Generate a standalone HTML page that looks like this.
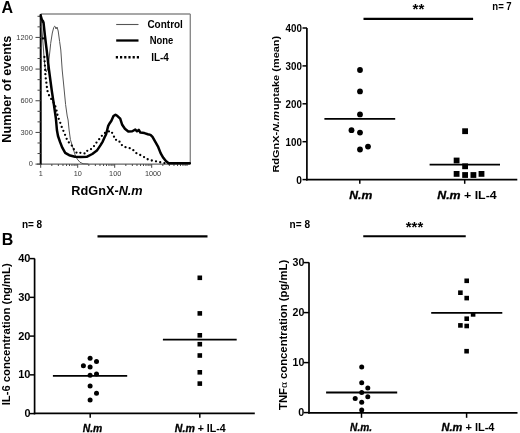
<!DOCTYPE html>
<html><head><meta charset="utf-8"><style>
html,body{margin:0;padding:0;background:#fff;}
svg{display:block;font-family:"Liberation Sans", sans-serif;will-change:transform;}
</style></head><body>
<svg width="520" height="433" viewBox="0 0 520 433">
<rect width="520" height="433" fill="#fff"/>
<text x="1.5" y="13.2" font-size="16" font-weight="bold" font-style="normal" fill="#000" text-anchor="start" >A</text>
<text x="11.2" y="142.7" font-size="12.7" font-weight="bold" font-style="normal" fill="#000" text-anchor="start" textLength="107" lengthAdjust="spacingAndGlyphs" transform="rotate(-90 11.2 142.7)" >Number of events</text>
<line x1="40.7" y1="14" x2="190.3" y2="14" stroke="#8a8a8a" stroke-width="1.4" />
<line x1="190.3" y1="14" x2="190.3" y2="164.1" stroke="#8a8a8a" stroke-width="1.4" />
<line x1="37" y1="164.1" x2="190.3" y2="164.1" stroke="#666" stroke-width="1.3" />
<line x1="40.7" y1="14" x2="40.7" y2="164.6" stroke="#000" stroke-width="2.0" />
<line x1="35.5" y1="164.1" x2="40.7" y2="164.1" stroke="#444" stroke-width="1.0" />
<text x="32.8" y="166.2" font-size="7.4" font-weight="normal" font-style="normal" fill="#3a3a3a" text-anchor="end" >0</text>
<line x1="37.5" y1="153.543" x2="40.7" y2="153.543" stroke="#444" stroke-width="1.0" />
<line x1="37.5" y1="142.986" x2="40.7" y2="142.986" stroke="#444" stroke-width="1.0" />
<line x1="35.5" y1="132.429" x2="40.7" y2="132.429" stroke="#444" stroke-width="1.0" />
<text x="32.8" y="134.529" font-size="7.4" font-weight="normal" font-style="normal" fill="#3a3a3a" text-anchor="end" >300</text>
<line x1="37.5" y1="121.87199999999999" x2="40.7" y2="121.87199999999999" stroke="#444" stroke-width="1.0" />
<line x1="37.5" y1="111.315" x2="40.7" y2="111.315" stroke="#444" stroke-width="1.0" />
<line x1="35.5" y1="100.758" x2="40.7" y2="100.758" stroke="#444" stroke-width="1.0" />
<text x="32.8" y="102.85799999999999" font-size="7.4" font-weight="normal" font-style="normal" fill="#3a3a3a" text-anchor="end" >600</text>
<line x1="37.5" y1="90.201" x2="40.7" y2="90.201" stroke="#444" stroke-width="1.0" />
<line x1="37.5" y1="79.64399999999999" x2="40.7" y2="79.64399999999999" stroke="#444" stroke-width="1.0" />
<line x1="35.5" y1="69.087" x2="40.7" y2="69.087" stroke="#444" stroke-width="1.0" />
<text x="32.8" y="71.187" font-size="7.4" font-weight="normal" font-style="normal" fill="#3a3a3a" text-anchor="end" >900</text>
<line x1="37.5" y1="58.53" x2="40.7" y2="58.53" stroke="#444" stroke-width="1.0" />
<line x1="37.5" y1="47.973" x2="40.7" y2="47.973" stroke="#444" stroke-width="1.0" />
<line x1="35.5" y1="37.416" x2="40.7" y2="37.416" stroke="#444" stroke-width="1.0" />
<text x="32.8" y="39.516" font-size="7.4" font-weight="normal" font-style="normal" fill="#3a3a3a" text-anchor="end" >1200</text>
<line x1="37.5" y1="26.85900000000001" x2="40.7" y2="26.85900000000001" stroke="#444" stroke-width="1.0" />
<line x1="37.5" y1="16.301999999999992" x2="40.7" y2="16.301999999999992" stroke="#444" stroke-width="1.0" />
<line x1="40.7" y1="164.1" x2="40.7" y2="167.8" stroke="#444" stroke-width="1.0" />
<line x1="51.83810983956731" y1="164.1" x2="51.83810983956731" y2="166.0" stroke="#444" stroke-width="1.0" />
<line x1="58.35348642462751" y1="164.1" x2="58.35348642462751" y2="166.0" stroke="#444" stroke-width="1.0" />
<line x1="62.976219679134616" y1="164.1" x2="62.976219679134616" y2="166.0" stroke="#444" stroke-width="1.0" />
<line x1="66.5618901604327" y1="164.1" x2="66.5618901604327" y2="166.0" stroke="#444" stroke-width="1.0" />
<line x1="69.49159626419481" y1="164.1" x2="69.49159626419481" y2="166.0" stroke="#444" stroke-width="1.0" />
<line x1="71.9686274805275" y1="164.1" x2="71.9686274805275" y2="166.0" stroke="#444" stroke-width="1.0" />
<line x1="74.11432951870191" y1="164.1" x2="74.11432951870191" y2="166.0" stroke="#444" stroke-width="1.0" />
<line x1="76.00697284925502" y1="164.1" x2="76.00697284925502" y2="166.0" stroke="#444" stroke-width="1.0" />
<line x1="77.7" y1="164.1" x2="77.7" y2="167.8" stroke="#444" stroke-width="1.0" />
<line x1="88.83810983956731" y1="164.1" x2="88.83810983956731" y2="166.0" stroke="#444" stroke-width="1.0" />
<line x1="95.3534864246275" y1="164.1" x2="95.3534864246275" y2="166.0" stroke="#444" stroke-width="1.0" />
<line x1="99.97621967913462" y1="164.1" x2="99.97621967913462" y2="166.0" stroke="#444" stroke-width="1.0" />
<line x1="103.5618901604327" y1="164.1" x2="103.5618901604327" y2="166.0" stroke="#444" stroke-width="1.0" />
<line x1="106.49159626419481" y1="164.1" x2="106.49159626419481" y2="166.0" stroke="#444" stroke-width="1.0" />
<line x1="108.9686274805275" y1="164.1" x2="108.9686274805275" y2="166.0" stroke="#444" stroke-width="1.0" />
<line x1="111.11432951870191" y1="164.1" x2="111.11432951870191" y2="166.0" stroke="#444" stroke-width="1.0" />
<line x1="113.00697284925502" y1="164.1" x2="113.00697284925502" y2="166.0" stroke="#444" stroke-width="1.0" />
<line x1="114.7" y1="164.1" x2="114.7" y2="167.8" stroke="#444" stroke-width="1.0" />
<line x1="125.83810983956731" y1="164.1" x2="125.83810983956731" y2="166.0" stroke="#444" stroke-width="1.0" />
<line x1="132.35348642462753" y1="164.1" x2="132.35348642462753" y2="166.0" stroke="#444" stroke-width="1.0" />
<line x1="136.9762196791346" y1="164.1" x2="136.9762196791346" y2="166.0" stroke="#444" stroke-width="1.0" />
<line x1="140.5618901604327" y1="164.1" x2="140.5618901604327" y2="166.0" stroke="#444" stroke-width="1.0" />
<line x1="143.4915962641948" y1="164.1" x2="143.4915962641948" y2="166.0" stroke="#444" stroke-width="1.0" />
<line x1="145.96862748052752" y1="164.1" x2="145.96862748052752" y2="166.0" stroke="#444" stroke-width="1.0" />
<line x1="148.11432951870194" y1="164.1" x2="148.11432951870194" y2="166.0" stroke="#444" stroke-width="1.0" />
<line x1="150.00697284925502" y1="164.1" x2="150.00697284925502" y2="166.0" stroke="#444" stroke-width="1.0" />
<line x1="151.7" y1="164.1" x2="151.7" y2="167.8" stroke="#444" stroke-width="1.0" />
<line x1="162.83810983956732" y1="164.1" x2="162.83810983956732" y2="166.0" stroke="#444" stroke-width="1.0" />
<line x1="169.35348642462753" y1="164.1" x2="169.35348642462753" y2="166.0" stroke="#444" stroke-width="1.0" />
<line x1="173.9762196791346" y1="164.1" x2="173.9762196791346" y2="166.0" stroke="#444" stroke-width="1.0" />
<line x1="177.5618901604327" y1="164.1" x2="177.5618901604327" y2="166.0" stroke="#444" stroke-width="1.0" />
<line x1="180.4915962641948" y1="164.1" x2="180.4915962641948" y2="166.0" stroke="#444" stroke-width="1.0" />
<line x1="182.96862748052752" y1="164.1" x2="182.96862748052752" y2="166.0" stroke="#444" stroke-width="1.0" />
<line x1="185.11432951870194" y1="164.1" x2="185.11432951870194" y2="166.0" stroke="#444" stroke-width="1.0" />
<line x1="187.00697284925502" y1="164.1" x2="187.00697284925502" y2="166.0" stroke="#444" stroke-width="1.0" />
<text x="40.7" y="175.6" font-size="7.3" font-weight="normal" font-style="normal" fill="#3a3a3a" text-anchor="middle" >1</text>
<text x="77.7" y="175.6" font-size="7.3" font-weight="normal" font-style="normal" fill="#3a3a3a" text-anchor="middle" >10</text>
<text x="115.2" y="175.6" font-size="7.3" font-weight="normal" font-style="normal" fill="#3a3a3a" text-anchor="middle" >100</text>
<text x="153.0" y="175.6" font-size="7.3" font-weight="normal" font-style="normal" fill="#3a3a3a" text-anchor="middle" >1000</text>
<text x="71.3" y="195" font-size="12.5" font-weight="bold" fill="#000" textLength="71.4" lengthAdjust="spacingAndGlyphs">RdGnX-<tspan font-style="italic">N.m</tspan></text>
<line x1="116.2" y1="24.5" x2="138.5" y2="24.5" stroke="#555" stroke-width="1.1" />
<line x1="116.2" y1="40.5" x2="138.5" y2="40.5" stroke="#000" stroke-width="2.3" />
<line x1="115.8" y1="57.3" x2="139.5" y2="57.3" stroke="#000" stroke-width="2.4" stroke-dasharray="2.2 2"/>
<text x="147.4" y="27.5" font-size="10" font-weight="bold" font-style="normal" fill="#000" text-anchor="start" textLength="35.5" lengthAdjust="spacingAndGlyphs" >Control</text>
<text x="149.7" y="44" font-size="10" font-weight="bold" font-style="normal" fill="#000" text-anchor="start" textLength="23.6" lengthAdjust="spacingAndGlyphs" >None</text>
<text x="151.2" y="60.7" font-size="10" font-weight="bold" font-style="normal" fill="#000" text-anchor="start" textLength="17.6" lengthAdjust="spacingAndGlyphs" >IL-4</text>
<polyline points="41.0,20 41.8,28 42.6,38 43.5,50 44.2,60 45.2,68 46.3,72 47.5,69 48.8,61 50.0,50 50.7,43.3 52.3,33 53.7,27.6 54.6,26.2 55.3,26.7 56.0,29 57.0,27.0 58.2,31 59.6,41.4 60.8,50 62.2,70 63.8,86 65.6,104.6 67.2,116 68.1,120 69.1,130 70.4,139.6 72.7,147.1 75,154.6 77.3,159.2 80,162.3 83,163.7 88,164" fill="none" stroke="#555" stroke-width="1.0" stroke-linejoin="round" stroke-linecap="round" />
<polyline points="44.4,57 45.0,67 45.5,76.6 46.2,81.4 46.9,87.3 47.6,91.5 49,95.3 51.5,99.5 54.5,103.9 56.3,109.2 57.7,116.1 59.4,120.6 61,124.7 62.3,128.7 64,132.1 65.8,136.7 67.5,140.8 69.8,143.6 72.7,146.5 74.4,150.6 77.3,153.4 81.3,152.6 85.4,153.7 87.7,150.2 91.7,148.8 94.4,145.6 96.9,141.9 99.8,138.5 100.5,137.5 103.4,134 106.5,132 110.8,130.9 113.5,134.9 114.8,139.6 118.8,140.3 120.9,144.3 124.2,147 128.3,147.7 132.3,149 135.7,152.8 139,154.4 143.1,156.4 147.1,159.1 151.8,160.5 156.5,161.4 161.2,162.5 165.3,163.2" fill="none" stroke="#000" stroke-width="2.3" stroke-linejoin="round" stroke-linecap="round" stroke-dasharray="0 4.3"/>
<rect x="41.6" y="20.7" width="2.2" height="2" fill="#000"/>
<rect x="41.8" y="37.4" width="2.4" height="2" fill="#000"/>
<polyline points="40.8,16 41.9,19.8 42.9,21.0 43.5,22.4 44.9,35.5 46.8,51.2 49,70 51.8,90.8 53.9,104.6 55.9,118.5 56.9,130 58,136 60,141.9 62.3,147.7 65.2,152.9 69.2,155.2 75,156.7 80.8,157.1 87.1,156.7 92.3,154 96.9,150.6 100.4,145.4 102.7,141.6 104.5,137.5 106.1,134.2 108.1,126.2 109.7,123.2 111.4,120.8 113.5,116.1 115.5,114.7 117.5,116.1 120.2,118.7 122.2,124.8 124.9,128.8 128.3,131.5 132.3,131.3 135.3,129.5 137,131.3 138.8,129.9 140.4,132.6 144.4,133.1 147.8,134.2 150.5,134.9 152.5,136.9 155.2,141.6 157.9,146.3 160.6,153.1 163.3,157.8 165.9,161.1 168.6,163.2 172,163.3 189.8,163.3" fill="none" stroke="#000" stroke-width="2.5" stroke-linejoin="round" stroke-linecap="round" />
<line x1="306.9" y1="28.0" x2="306.9" y2="180.4" stroke="#000" stroke-width="1.7" />
<line x1="306.1" y1="179.6" x2="517.3" y2="179.6" stroke="#000" stroke-width="1.7" />
<line x1="302.5" y1="179.6" x2="307" y2="179.6" stroke="#000" stroke-width="1.5" />
<text x="301.9" y="183.5" font-size="10.2" font-weight="bold" font-style="normal" fill="#000" text-anchor="end" >0</text>
<line x1="302.5" y1="141.7" x2="307" y2="141.7" stroke="#000" stroke-width="1.5" />
<text x="301.9" y="145.6" font-size="10.2" font-weight="bold" font-style="normal" fill="#000" text-anchor="end" textLength="16.3" lengthAdjust="spacingAndGlyphs" >100</text>
<line x1="302.5" y1="103.8" x2="307" y2="103.8" stroke="#000" stroke-width="1.5" />
<text x="301.9" y="107.7" font-size="10.2" font-weight="bold" font-style="normal" fill="#000" text-anchor="end" textLength="16.3" lengthAdjust="spacingAndGlyphs" >200</text>
<line x1="302.5" y1="65.89999999999999" x2="307" y2="65.89999999999999" stroke="#000" stroke-width="1.5" />
<text x="301.9" y="69.8" font-size="10.2" font-weight="bold" font-style="normal" fill="#000" text-anchor="end" textLength="16.3" lengthAdjust="spacingAndGlyphs" >300</text>
<line x1="302.5" y1="28.0" x2="307" y2="28.0" stroke="#000" stroke-width="1.5" />
<text x="301.9" y="31.9" font-size="10.2" font-weight="bold" font-style="normal" fill="#000" text-anchor="end" textLength="16.3" lengthAdjust="spacingAndGlyphs" >400</text>
<line x1="359.8" y1="179.6" x2="359.8" y2="183.8" stroke="#000" stroke-width="1.5" />
<line x1="464.7" y1="179.6" x2="464.7" y2="183.8" stroke="#000" stroke-width="1.5" />
<text x="349.3" y="198.8" font-size="11" font-weight="bold" font-style="italic" fill="#000" text-anchor="start" textLength="23" lengthAdjust="spacingAndGlyphs" stroke="#000" stroke-width="0.3">N.m</text>
<text x="437.2" y="198.9" font-size="11" font-weight="bold" fill="#000" textLength="59.5" lengthAdjust="spacingAndGlyphs"><tspan font-style="italic" stroke="#000" stroke-width="0.3">N.m</tspan> + IL-4</text>
<line x1="363.5" y1="18.9" x2="473.1" y2="18.9" stroke="#000" stroke-width="2.2" />
<text x="412.5" y="14.2" font-size="14.5" font-weight="bold" font-style="normal" fill="#000" text-anchor="start" textLength="11.8" lengthAdjust="spacingAndGlyphs" >**</text>
<text x="492.3" y="9.8" font-size="10" font-weight="bold" font-style="normal" fill="#000" text-anchor="start" textLength="19.4" lengthAdjust="spacingAndGlyphs" >n= 7</text>
<text x="278.7" y="172.6" font-size="9" font-weight="bold" fill="#000" textLength="136.8" lengthAdjust="spacingAndGlyphs" transform="rotate(-90 278.7 172.6)">RdGnX-<tspan font-style="italic">N.m</tspan>&#8202;uptake (mean)</text>
<circle cx="360" cy="70" r="2.9" fill="#000"/>
<circle cx="360" cy="91.4" r="2.9" fill="#000"/>
<circle cx="360" cy="114.4" r="2.9" fill="#000"/>
<circle cx="351.5" cy="130.2" r="2.9" fill="#000"/>
<circle cx="360" cy="132.6" r="2.9" fill="#000"/>
<circle cx="360" cy="149.5" r="2.9" fill="#000"/>
<circle cx="368" cy="146.6" r="2.9" fill="#000"/>
<line x1="324.4" y1="118.8" x2="395.2" y2="118.8" stroke="#000" stroke-width="1.8" />
<rect x="462.20000000000005" y="128.29999999999998" width="5.8" height="5.8" fill="#000"/>
<rect x="453.70000000000005" y="157.6" width="5.8" height="5.8" fill="#000"/>
<rect x="462.20000000000005" y="163.4" width="5.8" height="5.8" fill="#000"/>
<rect x="453.70000000000005" y="171.0" width="5.8" height="5.8" fill="#000"/>
<rect x="462.20000000000005" y="172.1" width="5.8" height="5.8" fill="#000"/>
<rect x="470.5" y="172.1" width="5.8" height="5.8" fill="#000"/>
<rect x="478.6" y="171.0" width="5.8" height="5.8" fill="#000"/>
<line x1="429.6" y1="164.7" x2="500" y2="164.7" stroke="#000" stroke-width="1.8" />
<text x="1.8" y="245.3" font-size="16" font-weight="bold" font-style="normal" fill="#000" text-anchor="start" >B</text>
<text x="21.9" y="227.6" font-size="10.5" font-weight="bold" font-style="normal" fill="#000" text-anchor="start" textLength="20.3" lengthAdjust="spacingAndGlyphs" >n= 8</text>
<line x1="97.5" y1="236.3" x2="207.5" y2="236.3" stroke="#000" stroke-width="2.2" />
<line x1="34.6" y1="258.6" x2="34.6" y2="414.3" stroke="#000" stroke-width="1.7" />
<line x1="33.8" y1="413.4" x2="254.8" y2="413.4" stroke="#000" stroke-width="1.7" />
<line x1="29.8" y1="413.6" x2="34.8" y2="413.6" stroke="#000" stroke-width="1.5" />
<text x="30.5" y="417.20000000000005" font-size="10.3" font-weight="bold" font-style="normal" fill="#000" text-anchor="end" textLength="6.0" lengthAdjust="spacingAndGlyphs" >0</text>
<line x1="29.8" y1="374.85" x2="34.8" y2="374.85" stroke="#000" stroke-width="1.5" />
<text x="30.5" y="378.45000000000005" font-size="10.3" font-weight="bold" font-style="normal" fill="#000" text-anchor="end" textLength="12.3" lengthAdjust="spacingAndGlyphs" >10</text>
<line x1="29.8" y1="336.1" x2="34.8" y2="336.1" stroke="#000" stroke-width="1.5" />
<text x="30.5" y="339.70000000000005" font-size="10.3" font-weight="bold" font-style="normal" fill="#000" text-anchor="end" textLength="12.3" lengthAdjust="spacingAndGlyphs" >20</text>
<line x1="29.8" y1="297.35" x2="34.8" y2="297.35" stroke="#000" stroke-width="1.5" />
<text x="30.5" y="300.95000000000005" font-size="10.3" font-weight="bold" font-style="normal" fill="#000" text-anchor="end" textLength="12.3" lengthAdjust="spacingAndGlyphs" >30</text>
<line x1="29.8" y1="258.6" x2="34.8" y2="258.6" stroke="#000" stroke-width="1.5" />
<text x="30.5" y="262.20000000000005" font-size="10.3" font-weight="bold" font-style="normal" fill="#000" text-anchor="end" textLength="12.3" lengthAdjust="spacingAndGlyphs" >40</text>
<line x1="90.2" y1="413.4" x2="90.2" y2="417.7" stroke="#000" stroke-width="1.5" />
<line x1="199.8" y1="413.4" x2="199.8" y2="417.7" stroke="#000" stroke-width="1.5" />
<text x="82.7" y="431.5" font-size="10.3" font-weight="bold" font-style="italic" fill="#000" text-anchor="start" textLength="19.6" lengthAdjust="spacingAndGlyphs" stroke="#000" stroke-width="0.3">N.m</text>
<text x="174.8" y="432" font-size="10" font-weight="bold" fill="#000" textLength="50.9" lengthAdjust="spacingAndGlyphs"><tspan font-style="italic" stroke="#000" stroke-width="0.3">N.m</tspan> + IL-4</text>
<text x="9.9" y="405.3" font-size="10.5" font-weight="bold" font-style="normal" fill="#000" text-anchor="start" textLength="142" lengthAdjust="spacingAndGlyphs" transform="rotate(-90 9.9 405.3)" >IL-6 concentration (ng/mL)</text>
<circle cx="90.1" cy="358.3" r="2.5" fill="#000"/>
<circle cx="96.5" cy="361.5" r="2.5" fill="#000"/>
<circle cx="83.4" cy="365.8" r="2.5" fill="#000"/>
<circle cx="90.1" cy="367.1" r="2.5" fill="#000"/>
<circle cx="96.5" cy="373.9" r="2.5" fill="#000"/>
<circle cx="90.1" cy="375.2" r="2.5" fill="#000"/>
<circle cx="90.1" cy="386" r="2.5" fill="#000"/>
<circle cx="96.5" cy="393.3" r="2.5" fill="#000"/>
<circle cx="90.1" cy="400.1" r="2.5" fill="#000"/>
<line x1="52.9" y1="375.9" x2="127.2" y2="375.9" stroke="#000" stroke-width="1.8" />
<rect x="197.5" y="275.5" width="4.6" height="4.6" fill="#000"/>
<rect x="197.5" y="311.09999999999997" width="4.6" height="4.6" fill="#000"/>
<rect x="197.5" y="333.0" width="4.6" height="4.6" fill="#000"/>
<rect x="197.5" y="341.9" width="4.6" height="4.6" fill="#000"/>
<rect x="197.5" y="353.2" width="4.6" height="4.6" fill="#000"/>
<rect x="197.5" y="370.0" width="4.6" height="4.6" fill="#000"/>
<rect x="197.5" y="381.3" width="4.6" height="4.6" fill="#000"/>
<line x1="162.9" y1="339.7" x2="236.7" y2="339.7" stroke="#000" stroke-width="1.8" />
<text x="289.6" y="227.9" font-size="10.5" font-weight="bold" font-style="normal" fill="#000" text-anchor="start" textLength="20.4" lengthAdjust="spacingAndGlyphs" >n= 8</text>
<line x1="363.25" y1="236.25" x2="465.75" y2="236.25" stroke="#000" stroke-width="2.2" />
<text x="405.8" y="232.1" font-size="14.5" font-weight="bold" font-style="normal" fill="#000" text-anchor="start" textLength="17.4" lengthAdjust="spacingAndGlyphs" >***</text>
<line x1="309" y1="262.6" x2="309" y2="413.5" stroke="#000" stroke-width="1.7" />
<line x1="308.2" y1="412.8" x2="517.5" y2="412.8" stroke="#000" stroke-width="1.7" />
<line x1="303.6" y1="412.6" x2="309.2" y2="412.6" stroke="#000" stroke-width="1.5" />
<text x="304.3" y="416.20000000000005" font-size="10.3" font-weight="bold" font-style="normal" fill="#000" text-anchor="end" textLength="6.0" lengthAdjust="spacingAndGlyphs" >0</text>
<line x1="303.6" y1="362.6" x2="309.2" y2="362.6" stroke="#000" stroke-width="1.5" />
<text x="304.3" y="366.20000000000005" font-size="10.3" font-weight="bold" font-style="normal" fill="#000" text-anchor="end" textLength="11.8" lengthAdjust="spacingAndGlyphs" >10</text>
<line x1="303.6" y1="312.6" x2="309.2" y2="312.6" stroke="#000" stroke-width="1.5" />
<text x="304.3" y="316.20000000000005" font-size="10.3" font-weight="bold" font-style="normal" fill="#000" text-anchor="end" textLength="11.8" lengthAdjust="spacingAndGlyphs" >20</text>
<line x1="303.6" y1="262.6" x2="309.2" y2="262.6" stroke="#000" stroke-width="1.5" />
<text x="304.3" y="266.20000000000005" font-size="10.3" font-weight="bold" font-style="normal" fill="#000" text-anchor="end" textLength="11.8" lengthAdjust="spacingAndGlyphs" >30</text>
<line x1="361.5" y1="412.8" x2="361.5" y2="417.8" stroke="#000" stroke-width="1.5" />
<line x1="466.6" y1="412.8" x2="466.6" y2="417.8" stroke="#000" stroke-width="1.5" />
<text x="350.1" y="431.2" font-size="10.3" font-weight="bold" font-style="italic" fill="#000" text-anchor="start" textLength="22" lengthAdjust="spacingAndGlyphs" stroke="#000" stroke-width="0.3">N.m.</text>
<text x="441.5" y="430.6" font-size="10" font-weight="bold" fill="#000" textLength="53" lengthAdjust="spacingAndGlyphs"><tspan font-style="italic" stroke="#000" stroke-width="0.3">N.m</tspan> + IL-4</text>
<text x="286.8" y="410" font-size="10.4" font-weight="bold" fill="#000" textLength="150.2" lengthAdjust="spacingAndGlyphs" transform="rotate(-90 286.8 410)">TNF<tspan font-family="Liberation Serif" font-weight="normal">&#945;</tspan> concentration (pg/mL)</text>
<circle cx="361.7" cy="367" r="2.5" fill="#000"/>
<circle cx="361.7" cy="382.8" r="2.5" fill="#000"/>
<circle cx="367.8" cy="388" r="2.5" fill="#000"/>
<circle cx="361.7" cy="392.5" r="2.5" fill="#000"/>
<circle cx="367.8" cy="396.8" r="2.5" fill="#000"/>
<circle cx="355.2" cy="398.5" r="2.5" fill="#000"/>
<circle cx="361.7" cy="402.2" r="2.5" fill="#000"/>
<circle cx="361.7" cy="410.1" r="2.5" fill="#000"/>
<line x1="326.1" y1="392.5" x2="397.2" y2="392.5" stroke="#000" stroke-width="1.8" />
<rect x="464.4" y="278.5" width="4.6" height="4.6" fill="#000"/>
<rect x="458.09999999999997" y="290.4" width="4.6" height="4.6" fill="#000"/>
<rect x="464.4" y="295.8" width="4.6" height="4.6" fill="#000"/>
<rect x="470.8" y="312.09999999999997" width="4.6" height="4.6" fill="#000"/>
<rect x="464.4" y="316.4" width="4.6" height="4.6" fill="#000"/>
<rect x="458.09999999999997" y="323.09999999999997" width="4.6" height="4.6" fill="#000"/>
<rect x="464.4" y="323.7" width="4.6" height="4.6" fill="#000"/>
<rect x="464.3" y="348.9" width="4.6" height="4.6" fill="#000"/>
<line x1="431.2" y1="312.9" x2="502.3" y2="312.9" stroke="#000" stroke-width="1.8" />
</svg>
</body></html>
